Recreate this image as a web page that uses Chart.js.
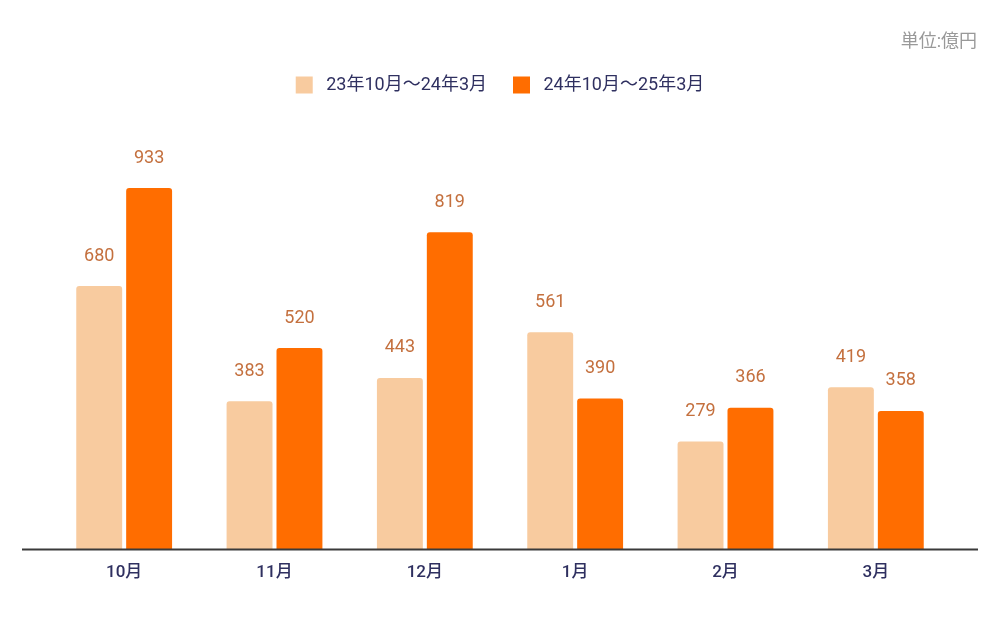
<!DOCTYPE html>
<html>
<head>
<meta charset="UTF-8">
<title>月別推移</title>
<script src="https://cdn.jsdelivr.net/npm/chart.js@4"></script>
<style type="text/css">
    html, body { margin: 0; padding: 0; background: #fff; }
    #holder { width: 1000px; height: 625px; }
</style>
</head>
<body>
<div id="holder">
    <canvas id="chart-area"></canvas>
</div>
<script type="text/javascript">
    // data
    var months = ['10月', '11月', '12月', '1月', '2月', '3月'];
    var seriesNames = ['23年10月～24年3月', '24年10月～25年3月'];
    var prevValues = [680, 383, 443, 561, 279, 419];
    var currValues = [933, 520, 819, 390, 366, 358];
    var unitText = '単位:億円';

    var fontFamily = "Roboto, 'Noto Sans CJK JP', sans-serif";
    var navy = '#2f3060';

    // values over the bars
    var valueLabels = {
        id: 'valueLabels',
        afterDatasetsDraw: function (chart) {
            var ctx = chart.ctx;
            ctx.save();
            ctx.font = '18px ' + fontFamily;
            ctx.fillStyle = '#c4703e';
            ctx.textAlign = 'center';
            ctx.textBaseline = 'middle';
            chart.data.datasets.forEach(function (ds, i) {
                chart.getDatasetMeta(i).data.forEach(function (bar, j) {
                    ctx.fillText(ds.data[j], bar.x, bar.y - 30);
                });
            });
            ctx.restore();
        }
    };

    // baseline (a bit wider than the plot) and the unit note
    var extras = {
        id: 'extras',
        afterDatasetsDraw: function (chart) {
            var ctx = chart.ctx;
            var y = chart.scales.y.getPixelForValue(0);
            ctx.save();
            ctx.strokeStyle = '#3a3a3a';
            ctx.lineWidth = 2;
            ctx.beginPath();
            ctx.moveTo(chart.chartArea.left - 27, y);
            ctx.lineTo(chart.chartArea.right + 27, y);
            ctx.stroke();

            ctx.font = '18px ' + fontFamily;
            ctx.fillStyle = '#999';
            ctx.textAlign = 'right';
            ctx.textBaseline = 'middle';
            ctx.fillText(unitText, chart.width - 23, 42);
            ctx.restore();
        }
    };

    var config = {
        type: 'bar',
        data: {
            labels: months,
            datasets: [{
                label: seriesNames[0],
                data: prevValues,
                backgroundColor: '#f8cb9f',
                borderRadius: 3
            }, {
                label: seriesNames[1],
                data: currValues,
                backgroundColor: '#ff6d00',
                borderRadius: 3
            }]
        },
        options: {
            responsive: true,
            maintainAspectRatio: false,
            animation: false,
            categoryPercentage: 0.664,
            barPercentage: 0.92,
            layout: { padding: { left: 49, right: 49, top: 50, bottom: 29 } },
            plugins: {
                legend: {
                    display: true,
                    labels: {
                        color: navy,
                        boxWidth: 17,
                        boxHeight: 17,
                        padding: 26,
                        font: { family: fontFamily, size: 18 },
                        generateLabels: function (chart) {
                            var items = Chart.defaults.plugins.legend.labels.generateLabels(chart);
                            items.forEach(function (it) { it.text = ' ' + it.text; });
                            return items;
                        }
                    }
                },
                tooltip: { enabled: false }
            },
            scales: {
                x: {
                    grid: { display: false, drawTicks: false },
                    border: { display: false },
                    ticks: {
                        color: navy,
                        padding: 13,
                        font: { family: fontFamily, size: 17, weight: '500' }
                    }
                },
                y: {
                    display: false,
                    min: 0,
                    max: 1150
                }
            }
        },
        plugins: [valueLabels, extras]
    };

    var ctx = document.getElementById('chart-area').getContext('2d');
    window.myBar = new Chart(ctx, config);
</script>
</body>
</html>
